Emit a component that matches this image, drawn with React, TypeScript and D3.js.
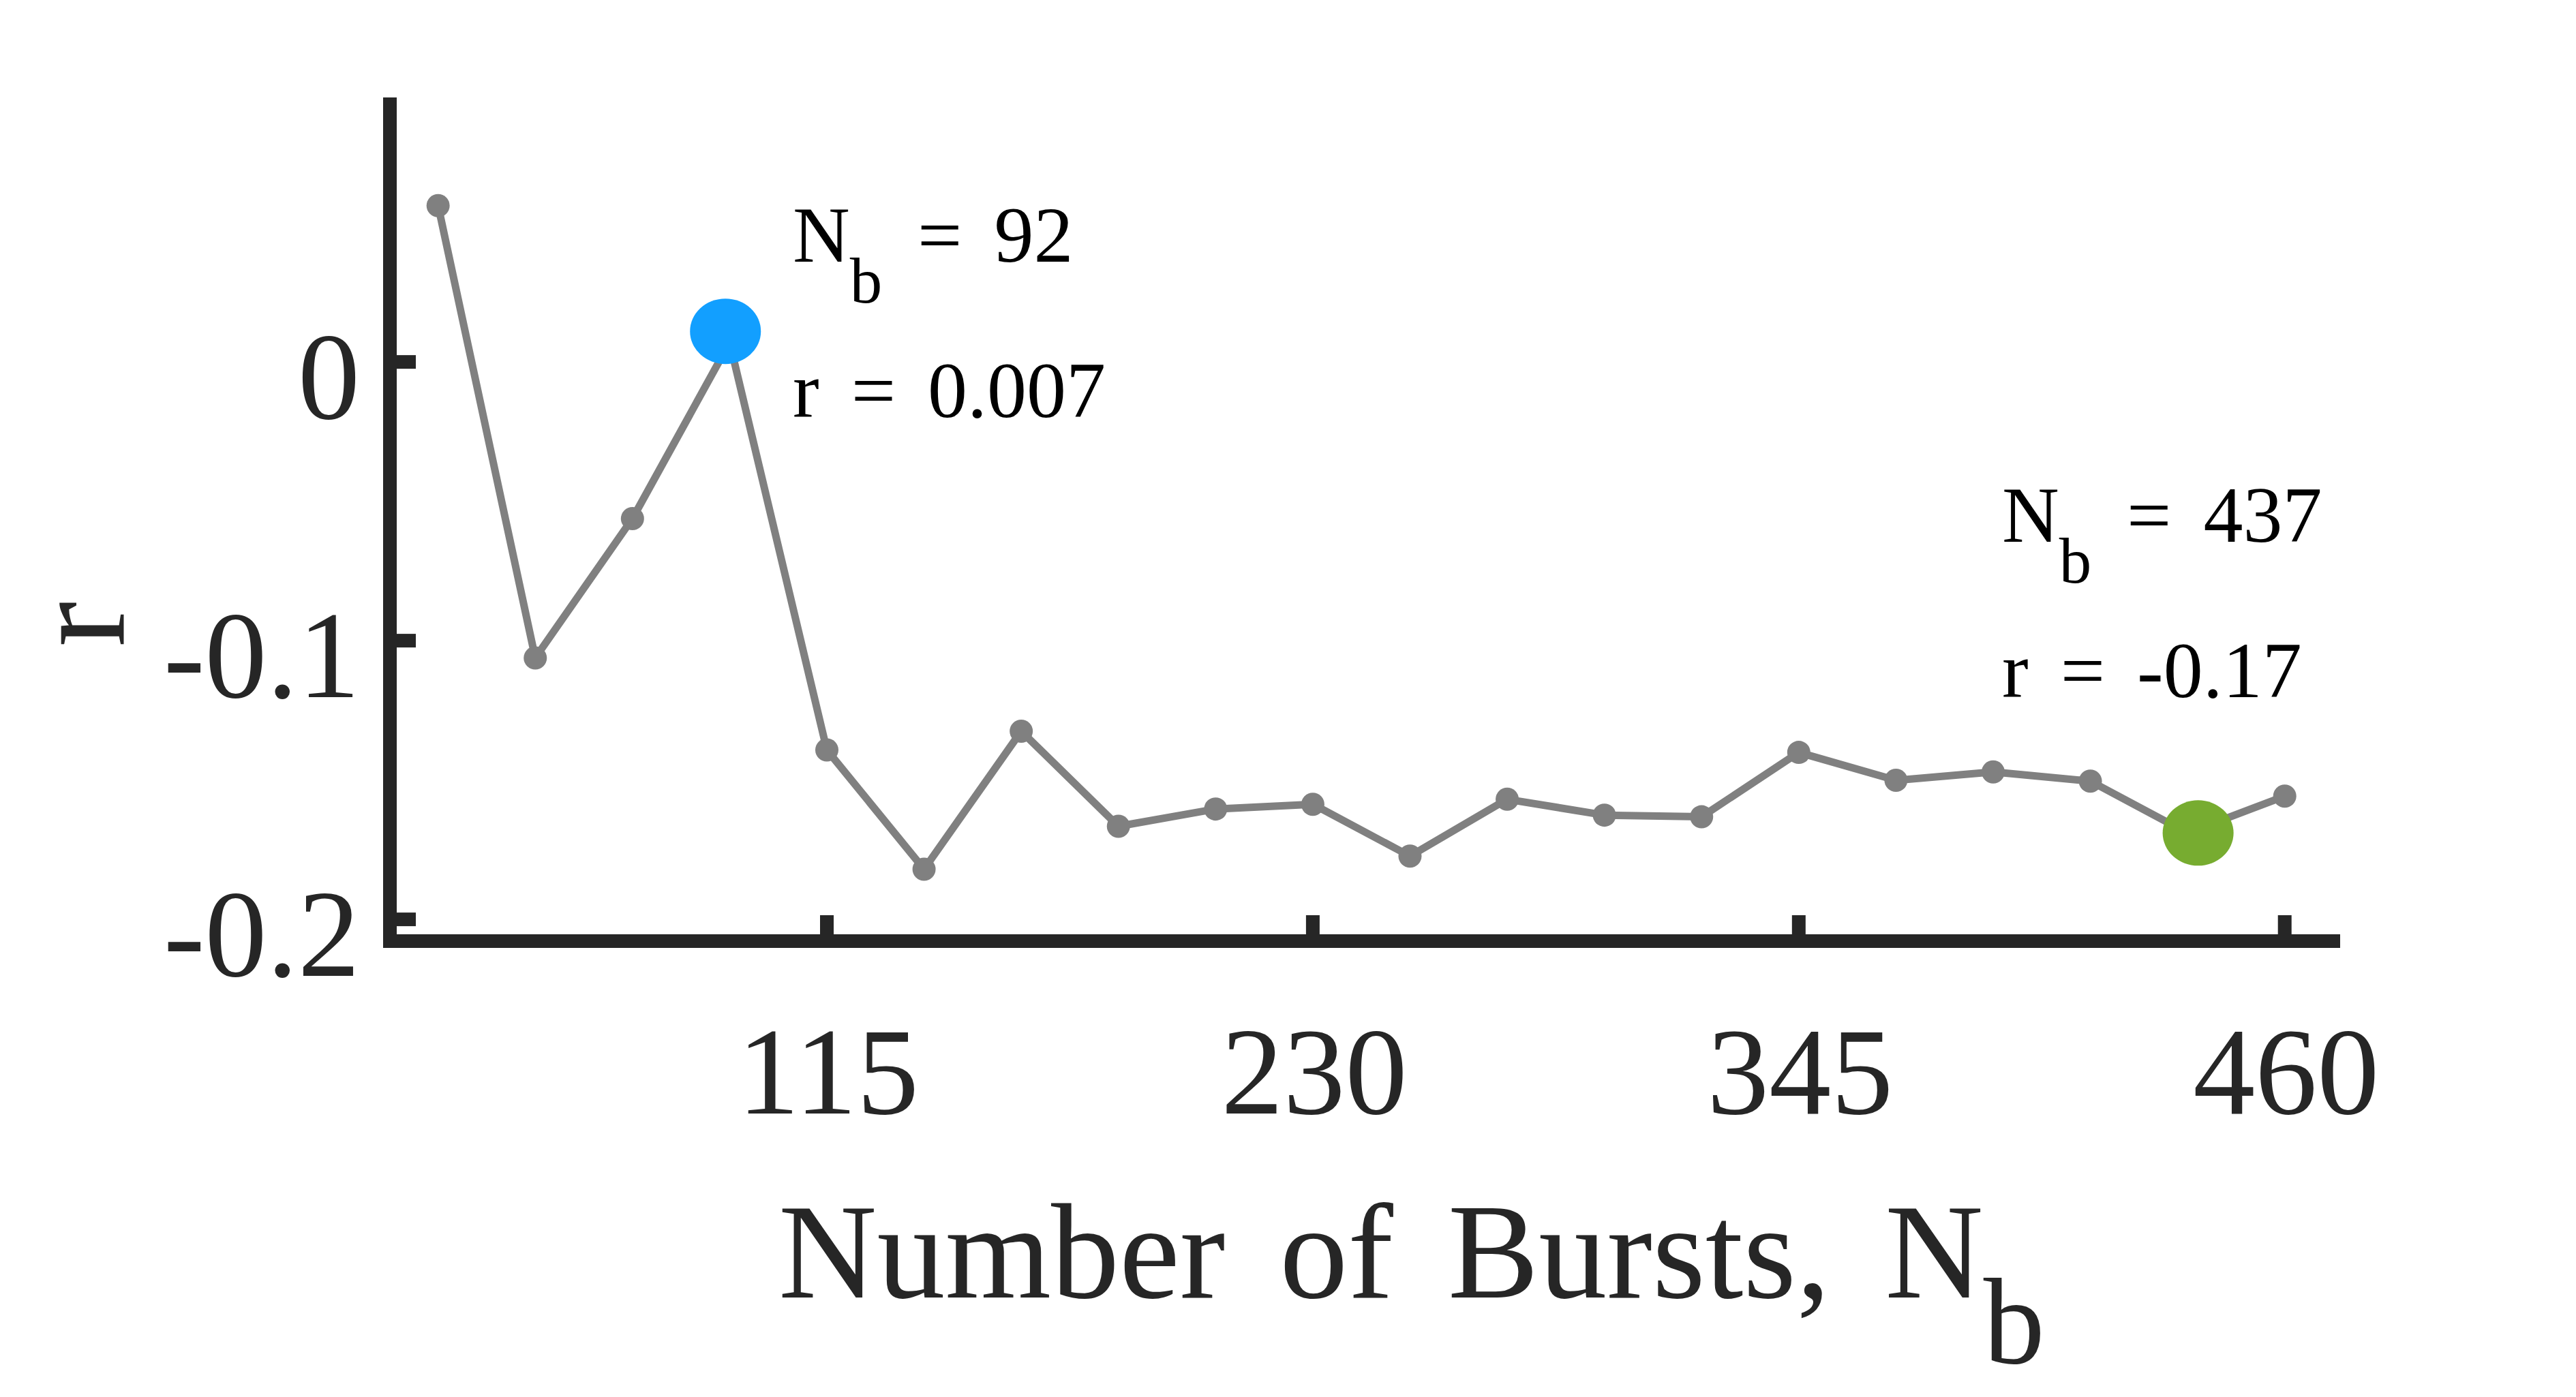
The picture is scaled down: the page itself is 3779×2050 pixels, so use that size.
import React, { useEffect, useRef } from 'react';
import * as d3 from 'd3';

// number of bursts and correlation
const bursts = [23, 46, 69, 92, 115, 138, 161, 184, 207, 230, 253, 276, 299, 322, 345, 368, 391, 414, 437, 460];
const rValues = [0.0561, -0.1062, -0.0562, 0.007, -0.1392, -0.182, -0.1325, -0.1666, -0.1604, -0.1587,
  -0.1773, -0.1569, -0.1626, -0.1632, -0.1401, -0.1501, -0.1471, -0.1504, -0.169, -0.1558];

const xTicks = [115, 230, 345, 460];
const yTicks = [0, -0.1, -0.2];

// highlighted markers sit a touch off the gray points in the figure
const highlightBursts = [91, 439.5];
const highlightR = [0.011, -0.169];
const highlightColors = ['#129FFF', '#77AC30'];
const highlightLabels = [['92', '0.007'], ['437', '-0.17']];

const App = () => {
  const svgRef = useRef(null);

  useEffect(() => {
    const svg = d3.select(svgRef.current);
    svg.selectAll('*').remove();

    const width = 3779;
    const height = 2050;
    const axisColor = '#262626';
    const font = "'Liberation Serif', 'Times New Roman', serif";

    const x = d3.scaleLinear().domain([11.6, 471.5]).range([572, 3423]);
    const y = d3.scaleLinear().domain([-0.2078, 0.0949]).range([1381, 143]);

    svg.attr('width', width).attr('height', height).attr('viewBox', [0, 0, width, height]);
    svg.append('rect').attr('width', width).attr('height', height).attr('fill', 'white');

    const data = bursts.map((b, i) => ({ b, r: rValues[i] }));

    const line = d3.line()
      .x(d => x(d.b))
      .y(d => y(d.r));

    svg.append('path')
      .datum(data)
      .attr('fill', 'none')
      .attr('stroke', '#808080')
      .attr('stroke-width', 11)
      .attr('stroke-linejoin', 'round')
      .attr('d', line);

    svg.append('g')
      .selectAll('circle')
      .data(data)
      .join('circle')
      .attr('cx', d => x(d.b))
      .attr('cy', d => y(d.r))
      .attr('r', 17)
      .attr('fill', '#808080');

    svg.append('g')
      .selectAll('ellipse')
      .data(highlightBursts)
      .join('ellipse')
      .attr('cx', d => x(d))
      .attr('cy', (d, i) => y(highlightR[i]))
      .attr('rx', 52)
      .attr('ry', 48)
      .attr('fill', (d, i) => highlightColors[i]);

    // axes
    const [x0, x1] = x.range();
    const yBottom = y.range()[0];
    const yTop = y.range()[1];

    svg.append('line')
      .attr('x1', x0).attr('x2', x0)
      .attr('y1', yTop).attr('y2', yBottom + 10)
      .attr('stroke', axisColor).attr('stroke-width', 20);

    svg.append('line')
      .attr('x1', x0 - 10).attr('x2', x1 + 10)
      .attr('y1', yBottom).attr('y2', yBottom)
      .attr('stroke', axisColor).attr('stroke-width', 20);

    svg.append('g')
      .selectAll('line')
      .data(yTicks)
      .join('line')
      .attr('x1', x0 + 10).attr('x2', x0 + 38)
      .attr('y1', d => y(d)).attr('y2', d => y(d))
      .attr('stroke', axisColor).attr('stroke-width', 20);

    svg.append('g')
      .selectAll('line')
      .data(xTicks)
      .join('line')
      .attr('x1', d => x(d)).attr('x2', d => x(d))
      .attr('y1', yBottom - 10).attr('y2', yBottom - 38)
      .attr('stroke', axisColor).attr('stroke-width', 20);

    svg.append('g')
      .selectAll('text')
      .data(yTicks)
      .join('text')
      .attr('x', 528)
      .attr('y', d => y(d) + 83)
      .attr('text-anchor', 'end')
      .attr('font-family', font)
      .attr('font-size', 182)
      .attr('fill', axisColor)
      .text(d => d3.format('')(d).replace('−', '-'));

    svg.append('g')
      .selectAll('text')
      .data(xTicks)
      .join('text')
      .attr('x', d => x(d) + 2)
      .attr('y', yBottom + 253)
      .attr('text-anchor', 'middle')
      .attr('font-family', font)
      .attr('font-size', 182)
      .attr('fill', axisColor)
      .text(d => d);

    // x label
    const xl = svg.append('text')
      .attr('x', 1142)
      .attr('y', 1904)
      .attr('font-family', font)
      .attr('font-size', 200)
      .attr('word-spacing', 30)
      .attr('fill', axisColor);
    xl.append('tspan').text('Number of Bursts, N');
    xl.append('tspan').attr('dy', 96).attr('font-size', 180).text('b');

    // y label
    svg.append('text')
      .attr('transform', 'translate(181,916) rotate(-90)')
      .attr('text-anchor', 'middle')
      .attr('font-family', font)
      .attr('font-size', 200)
      .attr('fill', axisColor)
      .text('r');

    // annotations
    const annX = [1163, 2937];
    const annY = [384, 795];
    highlightLabels.forEach(([nb, r], i) => {
      const t = svg.append('text')
        .attr('x', annX[i])
        .attr('y', annY[i])
        .attr('font-family', font)
        .attr('font-size', 116)
        .attr('fill', 'black');
      t.append('tspan').text('N');
      t.append('tspan').attr('dy', 60).attr('font-size', 95).text('b');
      t.append('tspan').attr('x', annX[i] + 183).attr('dy', -60).attr('word-spacing', 18).text(`= ${nb}`);

      svg.append('text')
        .attr('x', annX[i])
        .attr('y', annY[i] + 228)
        .attr('font-family', font)
        .attr('font-size', 116)
        .attr('word-spacing', 18)
        .attr('fill', 'black')
        .text(`r = ${r}`);
    });
  }, []);

  return <svg ref={svgRef} style={{ position: 'absolute', left: 0, top: 0, display: 'block' }}></svg>;
};

export default App;
